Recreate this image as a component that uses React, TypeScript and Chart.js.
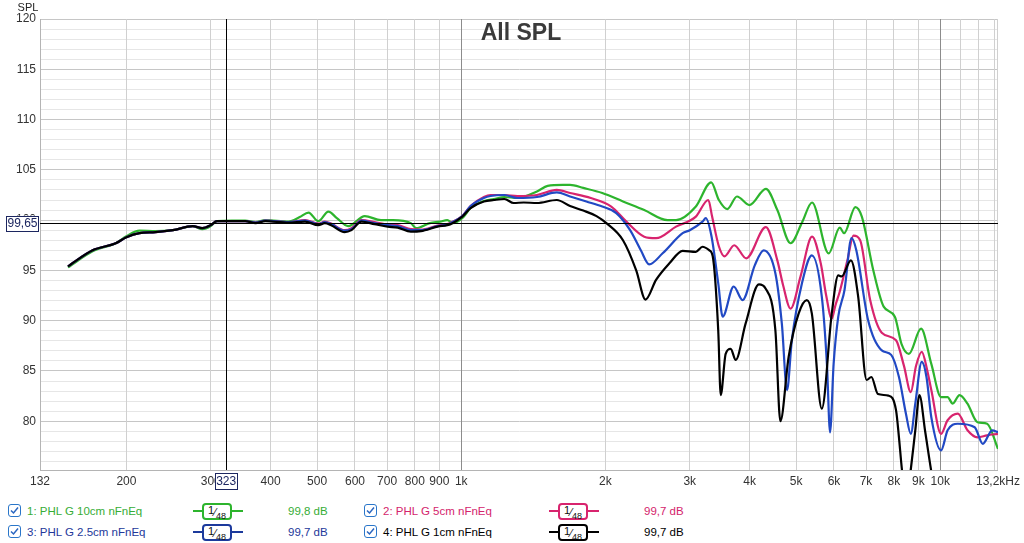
import { useEffect, useRef } from 'react';
import { Chart, registerables } from 'chart.js';

Chart.register(...registerables);

// frequency axis ticks (Hz) and their printed text
const xTickHz = [132, 200, 300, 400, 500, 600, 700, 800, 900, 1000, 2000, 3000, 4000, 5000, 6000, 7000, 8000, 9000, 10000, 11000, 12000, 13000, 13200];
const xTickText = ['132', '200', '300', '400', '500', '600', '700', '800', '900', '1k', '2k', '3k', '4k', '5k', '6k', '7k', '8k', '9k', '10k', '', '', '', '13,2kHz'];
const yTickLabels = [80, 85, 90, 95, 100, 105, 110, 115, 120];

const cursorHz = 323;
const cursorDb = 99.65;

// 1: PHL G 10cm nFnEq
const greenHz = [151, 170, 190, 200, 213, 230, 250, 275, 288, 300, 309, 332, 354, 372, 390, 436, 460, 480, 503, 528, 550, 581, 629, 680, 720, 785, 805, 860, 903, 935, 960, 1010, 1046, 1115, 1170, 1230, 1310, 1439, 1515, 1630, 1687, 1798, 1970, 2176, 2410, 2694, 2808, 3089, 3325, 3450, 3593, 3764, 3999, 4325, 4570, 4870, 5150, 5400, 5850, 6170, 6300, 6650, 6860, 7250, 7620, 8040, 8300, 8600, 9120, 9580, 10040, 10360, 10620, 10970, 11400, 11960, 12530, 13200];
const greenDb = [95.3, 96.9, 97.7, 98.4, 98.95, 98.9, 99.0, 99.4, 99.1, 99.4, 99.9, 99.95, 99.95, 99.8, 100.0, 99.85, 100.3, 100.75, 99.9, 100.85, 100.2, 99.4, 100.4, 100.0, 100.0, 99.7, 99.2, 99.7, 99.85, 100.0, 99.7, 100.3, 101.2, 101.9, 102.1, 102.3, 102.2, 102.85, 103.4, 103.5, 103.5, 103.2, 102.7, 101.85, 101.0, 100.0, 100.0, 101.35, 103.75, 102.0, 101.1, 102.35, 101.5, 103.1, 101.0, 97.7, 99.8, 101.75, 96.7, 99.25, 98.7, 101.3, 100.35, 95.0, 91.4, 90.4, 87.7, 86.7, 89.2, 85.7, 82.4, 82.4, 81.75, 82.6, 81.75, 79.9, 79.75, 77.25];

// 2: PHL G 5cm nFnEq
const pinkHz = [151, 170, 190, 200, 213, 230, 250, 275, 288, 300, 309, 332, 354, 372, 390, 436, 472, 503, 519, 535, 571, 590, 619, 659, 702, 737, 785, 824, 892, 935, 950, 1005, 1046, 1115, 1151, 1230, 1310, 1439, 1583, 1687, 1864, 2057, 2212, 2410, 2551, 2808, 3089, 3280, 3340, 3450, 3545, 3715, 3935, 4325, 4570, 4700, 4870, 5110, 5400, 5630, 5780, 5936, 6040, 6170, 6400, 6590, 6805, 7140, 7550, 8085, 8400, 8680, 8900, 9150, 9400, 9580, 10040, 10360, 10880, 11400, 11960, 12530, 13200];
const pinkDb = [95.4, 97.0, 97.7, 98.3, 98.7, 98.8, 99.0, 99.4, 99.2, 99.5, 99.9, 99.9, 99.9, 99.75, 99.95, 99.8, 100.0, 99.65, 99.85, 99.65, 99.0, 99.2, 100.0, 99.8, 99.55, 99.5, 99.1, 99.05, 99.45, 99.6, 99.75, 100.4, 101.4, 102.3, 102.5, 102.5, 102.4, 102.5, 103.0, 102.7, 102.2, 101.35, 99.85, 98.35, 98.2, 99.35, 100.35, 102.0, 100.35, 97.4, 96.4, 97.5, 96.2, 99.3, 96.0, 93.5, 91.2, 94.4, 98.35, 95.7, 92.5, 90.2, 91.5, 92.9, 96.0, 98.45, 98.0, 92.05, 88.8, 88.05, 85.5, 82.9, 85.5, 86.9, 85.0, 83.1, 78.75, 80.1, 80.75, 79.1, 78.4, 78.6, 78.75];

// 3: PHL G 2.5cm nFnEq
const blueHz = [151, 170, 190, 200, 213, 230, 250, 275, 288, 300, 309, 332, 354, 372, 390, 436, 472, 503, 519, 535, 571, 590, 619, 659, 702, 737, 785, 824, 892, 935, 950, 1005, 1046, 1115, 1151, 1230, 1310, 1439, 1583, 1687, 1825, 1970, 2107, 2252, 2371, 2468, 2633, 2899, 3000, 3190, 3240, 3330, 3440, 3514, 3705, 3866, 4100, 4280, 4528, 4670, 4788, 4900, 5143, 5395, 5659, 5800, 5888, 5990, 6125, 6312, 6528, 6680, 7070, 7550, 7900, 8200, 8480, 8680, 8870, 9150, 9360, 9580, 10040, 10360, 10880, 11800, 12270, 12840, 13200];
const blueDb = [95.4, 97.0, 97.7, 98.3, 98.7, 98.8, 99.0, 99.4, 99.2, 99.5, 99.9, 99.9, 99.9, 99.75, 99.95, 99.8, 99.95, 99.6, 99.8, 99.6, 98.95, 99.1, 99.95, 99.7, 99.5, 99.4, 99.0, 99.0, 99.4, 99.55, 99.7, 100.4, 101.4, 102.2, 102.4, 102.5, 102.2, 102.3, 102.75, 102.35, 101.85, 101.35, 100.7, 99.0, 97.0, 95.6, 96.7, 98.7, 99.0, 99.85, 100.2, 98.4, 93.7, 90.4, 93.4, 92.05, 95.5, 97.0, 94.7, 89.7, 83.1, 88.05, 93.7, 96.5, 92.4, 85.7, 78.9, 85.7, 90.4, 93.05, 98.2, 97.0, 90.05, 87.05, 86.6, 84.4, 80.75, 78.75, 81.75, 85.9, 84.4, 80.4, 77.1, 79.1, 79.75, 79.4, 77.75, 79.1, 78.9];

// 4: PHL G 1cm nFnEq
const blackHz = [151, 170, 190, 200, 213, 230, 250, 275, 288, 300, 309, 332, 354, 372, 390, 436, 472, 503, 519, 535, 571, 590, 619, 659, 702, 737, 785, 824, 892, 935, 950, 1005, 1046, 1115, 1170, 1230, 1287, 1350, 1439, 1583, 1687, 1798, 1916, 2009, 2176, 2319, 2425, 2551, 2720, 2899, 3089, 3190, 3295, 3350, 3440, 3481, 3565, 3652, 3741, 3923, 4182, 4318, 4528, 4637, 4825, 5062, 5267, 5395, 5659, 5936, 6125, 6225, 6510, 6740, 7019, 7182, 7412, 7793, 8085, 8200, 8318, 8500, 8680, 8870, 9049, 9300, 9580, 10000, 11000, 12000, 13200];
const blackDb = [95.4, 97.0, 97.7, 98.3, 98.7, 98.8, 99.0, 99.4, 99.2, 99.5, 99.9, 99.9, 99.9, 99.7, 99.9, 99.75, 99.85, 99.5, 99.7, 99.5, 98.8, 99.0, 99.85, 99.6, 99.35, 99.25, 98.85, 98.9, 99.35, 99.5, 99.6, 100.35, 101.2, 101.85, 102.0, 102.1, 101.7, 101.75, 101.7, 102.0, 101.4, 100.95, 100.4, 99.7, 98.0, 95.0, 92.1, 94.05, 95.7, 96.95, 96.85, 97.35, 97.0, 96.4, 89.0, 82.6, 86.7, 87.2, 86.1, 89.7, 93.6, 93.2, 89.0, 80.0, 86.4, 90.7, 92.05, 90.7, 81.25, 90.7, 94.5, 94.4, 96.0, 92.4, 84.1, 84.4, 82.7, 82.55, 81.1, 78.4, 75.2, 72.0, 75.2, 79.1, 82.6, 79.0, 75.0, 70.0, 66.0, 66.0, 66.0];

const seriesNames = ['1: PHL G 10cm nFnEq', '2: PHL G 5cm nFnEq', '3: PHL G 2.5cm nFnEq', '4: PHL G 1cm nFnEq'];
const seriesColors = ['#2db42d', '#d8246e', '#2149c4', '#000000'];
const legendColors = ['#36ad36', '#d4246c', '#23389a', '#000000'];
const seriesLevels = ['99,8 dB', '99,7 dB', '99,7 dB', '99,7 dB'];

const FONT = "'Liberation Sans', Arial, sans-serif";

const toPoints = (hz: number[], db: number[]) => hz.map((f, i) => ({ x: f, y: db[i] }));

const overlay = {
  id: 'overlay',
  afterDatasetsDraw(chart: any) {
    const { ctx, chartArea: a, scales } = chart;
    const cx = Math.round(scales.x.getPixelForValue(cursorHz)) + 0.5;
    const cy = Math.round(scales.y.getPixelForValue(cursorDb)) - 0.5;
    ctx.save();
    ctx.strokeStyle = '#000';
    ctx.lineWidth = 1;
    ctx.beginPath();
    ctx.moveTo(cx, a.top);
    ctx.lineTo(cx, a.bottom);
    ctx.moveTo(a.left, cy);
    ctx.lineTo(a.right, cy);
    ctx.stroke();
    ctx.restore();
  },
  afterDraw(chart: any) {
    const { ctx, chartArea: a, scales } = chart;
    const cx = scales.x.getPixelForValue(cursorHz);
    const cy = scales.y.getPixelForValue(cursorDb) - 1;
    ctx.save();
    // title
    ctx.font = `bold 23px ${FONT}`;
    ctx.fillStyle = '#3a3a3a';
    ctx.textAlign = 'center';
    ctx.textBaseline = 'middle';
    ctx.fillText('All SPL', 521, 34);
    // axis name
    ctx.font = `11px ${FONT}`;
    ctx.fillStyle = '#222';
    ctx.fillText('SPL', 28, 8);
    // cursor value boxes
    ctx.font = `12px ${FONT}`;
    ctx.lineWidth = 1;
    ctx.strokeStyle = '#1c2660';
    ctx.fillStyle = '#fff';
    ctx.fillRect(6, cy - 7, 32, 16);
    ctx.strokeRect(6.5, Math.round(cy - 7) + 0.5, 32, 15);
    ctx.fillRect(cx - 11, a.bottom + 3, 22, 17);
    ctx.strokeRect(Math.round(cx - 11) + 0.5, a.bottom + 3.5, 22, 16);
    ctx.fillStyle = '#1c2660';
    ctx.fillText('99,65', 22.5, cy + 1.5);
    ctx.fillText(String(cursorHz), cx, a.bottom + 12);
    ctx.restore();
  },
};

function CheckBox() {
  return (
    <svg width="13" height="13" viewBox="0 0 13 13" style={{ display: 'block' }}>
      <rect x="0.5" y="0.5" width="12" height="12" rx="2.5" fill="#fff" stroke="#2a76c9" />
      <path d="M3 6.5 L5.5 9 L10 3.5" fill="none" stroke="#2a66c0" strokeWidth="1.5" />
    </svg>
  );
}

function LegendItem({ idx, x, y }: { idx: number; x: number; y: number }) {
  const color = seriesColors[idx];
  const text = legendColors[idx];
  return (
    <>
      <div style={{ position: 'absolute', left: x, top: y - 7 }}>
        <CheckBox />
      </div>
      <div style={{ position: 'absolute', left: x + 19, top: y - 8, fontSize: 11.5, lineHeight: '16px', color: text, whiteSpace: 'nowrap' }}>
        {seriesNames[idx]}
      </div>
      <div style={{ position: 'absolute', left: x + 185, top: y - 1, width: 50, height: 2, background: idx === 2 ? '#1c3a9c' : color }} />
      <div
        style={{
          position: 'absolute', left: x + 194, top: y - 8, width: 26, height: 13,
          border: `2px solid ${idx === 2 ? '#1c3a9c' : color}`, borderRadius: 4, background: '#fff',
          fontSize: 11, lineHeight: '14px', color: '#111', textAlign: 'center', whiteSpace: 'nowrap',
        }}
      >
        <span style={{ position: 'relative', top: -2, fontSize: 11 }}>1</span>
        <span>⁄</span>
        <span style={{ position: 'relative', top: 3, fontSize: 9 }}>48</span>
      </div>
      <div style={{ position: 'absolute', left: x + 280, top: y - 8, fontSize: 11.5, lineHeight: '16px', color: text, whiteSpace: 'nowrap' }}>
        {seriesLevels[idx]}
      </div>
    </>
  );
}

export default function App() {
  const chartRef = useRef<HTMLCanvasElement>(null);

  useEffect(() => {
    if (!chartRef.current) return;
    Chart.defaults.font.family = FONT;
    Chart.defaults.font.size = 12;
    Chart.defaults.color = '#333';

    const chart = new Chart(chartRef.current, {
      type: 'line',
      data: {
        datasets: [
          { label: seriesNames[3], data: toPoints(blackHz, blackDb), borderColor: seriesColors[3] },
          { label: seriesNames[2], data: toPoints(blueHz, blueDb), borderColor: seriesColors[2] },
          { label: seriesNames[1], data: toPoints(pinkHz, pinkDb), borderColor: seriesColors[1] },
          { label: seriesNames[0], data: toPoints(greenHz, greenDb), borderColor: seriesColors[0] },
        ].map(ds => ({
          ...ds,
          borderWidth: 2.2,
          pointRadius: 0,
          fill: false,
          cubicInterpolationMode: 'monotone' as const,
        })),
      },
      options: {
        responsive: true,
        maintainAspectRatio: false,
        animation: false,
        layout: { padding: { top: 19, right: 20, left: 0, bottom: 0 } },
        plugins: {
          legend: { display: false },
          tooltip: { enabled: false },
        },
        scales: {
          x: {
            type: 'logarithmic',
            min: 132,
            max: 13200,
            afterBuildTicks: (scale: any) => {
              scale.ticks = xTickHz.map(v => ({ value: v }));
            },
            afterFit: (scale: any) => {
              scale.height = 20;
            },
            border: { color: '#b4b4b4' },
            grid: {
              drawTicks: false,
              z: -1,
              color: (ctx: any) => (ctx.tick && (ctx.tick.value === 1000 || ctx.tick.value === 10000) ? '#8c8c8c' : '#d0d0d0'),
            },
            ticks: {
              autoSkip: false,
              maxRotation: 0,
              padding: 4,
              color: '#333',
              callback: (_v: any, i: number) => xTickText[i],
            },
          },
          y: {
            type: 'linear',
            min: 75.15,
            max: 120,
            afterBuildTicks: (scale: any) => {
              const t = [];
              for (let v = 76; v <= 120; v++) t.push({ value: v });
              scale.ticks = t;
            },
            afterFit: (scale: any) => {
              scale.width = 40;
            },
            border: { color: '#b4b4b4' },
            grid: {
              drawTicks: false,
              z: -2,
              color: (ctx: any) => (ctx.tick && ctx.tick.value % 5 === 0 ? '#c6c6c6' : '#e6e6e6'),
            },
            ticks: {
              autoSkip: false,
              padding: 4,
              color: '#333',
              callback: (v: any) => (yTickLabels.includes(Number(v)) ? String(v) : ''),
            },
          },
        },
      },
      plugins: [overlay],
    });

    return () => chart.destroy();
  }, []);

  return (
    <div style={{ position: 'fixed', left: 0, top: 0, width: 1024, height: 543, background: '#fff', fontFamily: FONT, overflow: 'hidden' }}>
      <div style={{ position: 'absolute', left: 0, top: 0, width: 1024, height: 490 }}>
        <canvas ref={chartRef} />
      </div>
      <LegendItem idx={0} x={8} y={511} />
      <LegendItem idx={1} x={364} y={511} />
      <LegendItem idx={2} x={8} y={532} />
      <LegendItem idx={3} x={364} y={532} />
    </div>
  );
}
